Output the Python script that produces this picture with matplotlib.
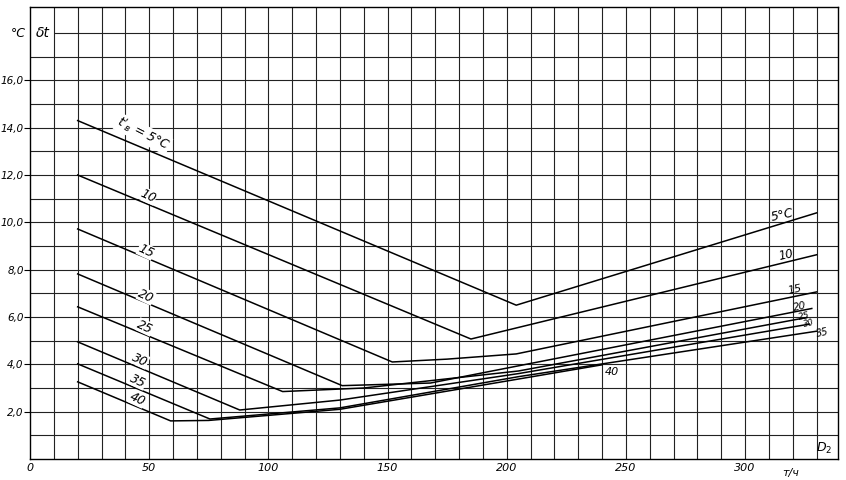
import numpy as np
import matplotlib
matplotlib.use("Agg")
import matplotlib.pyplot as plt

# curves of delta t vs D2, one per inlet temperature t'_B
x5 = [20, 204, 330]
y5 = [14.3, 6.5, 10.4]
x10 = [20, 185, 330]
y10 = [12.0, 5.07, 8.63]
x15 = [20, 152, 175, 204, 330]
y15 = [9.72, 4.1, 4.22, 4.44, 7.06]
x20 = [20, 131, 168, 328]
y20 = [7.82, 3.1, 3.21, 6.36]
x25 = [20, 106, 140, 205, 326]
y25 = [6.43, 2.85, 3.0, 3.72, 5.98]
x30 = [20, 88, 130, 205, 327]
y30 = [4.95, 2.07, 2.49, 3.61, 5.7]
x35 = [20, 75.5, 130, 205, 330]
y35 = [4.02, 1.69, 2.16, 3.48, 5.4]
x40 = [20, 59, 75, 130, 205, 240]
y40 = [3.26, 1.61, 1.63, 2.1, 3.38, 3.98]

xticks = [0, 50, 100, 150, 200, 250, 300]
yticks = [2, 4, 6, 8, 10, 12, 14, 16]

fig = plt.figure(figsize=(8.46, 4.8), dpi=100)
ax = fig.add_axes([30/846, 1-459/480, 808/846, 452/480])

# graph paper (the 18 line leaves room for the "δt" label)
for gx in np.arange(10, 340, 10):
    ax.axvline(gx, color="#222222", lw=0.8, zorder=1)
for gy in np.arange(1, 19, 1):
    x0 = 10 if gy == 18 else 0
    ax.hlines(gy, x0, 339, color="#222222", lw=0.8, zorder=1)

curves = [(x5, y5), (x10, y10), (x15, y15), (x20, y20),
          (x25, y25), (x30, y30), (x35, y35), (x40, y40)]
for xs, ys in curves:
    ax.plot(xs, ys, color="black", lw=1.1, zorder=3)

ax.set_xlim(0, 339)
ax.set_ylim(0, 19.1)
for s in ax.spines.values():
    s.set_color("black")
    s.set_linewidth(1.0)
    s.set_zorder(10)

ax.set_xticks(xticks)
ax.set_xticklabels([str(v) for v in xticks], style="italic", fontsize=8)
ax.set_yticks(yticks)
ax.set_yticklabels([f"{v},0" for v in yticks], style="italic", fontsize=7.5)
ax.tick_params(axis="x", length=0, pad=3)
ax.tick_params(axis="y", length=4, pad=0.5, width=0.8)

# labels on the left
lab = dict(style="italic", fontsize=9, ha="center", va="center", zorder=5)
ax.text(47.4, 13.74, "$t'_{в}$ = 5°C", rotation=-27, **lab,
        bbox=dict(fc="white", ec="none", pad=0.5))
left = [("10", 49.5, 11.12), ("15", 48.7, 8.79), ("20", 48.7, 6.89),
        ("25", 48.3, 5.58), ("30", 46.2, 4.19), ("35", 45.3, 3.30),
        ("40", 44.9, 2.54)]
for t, x, y in left:
    ax.text(x, y, t, rotation=-25, **lab,
            bbox=dict(fc="white", ec="none", pad=0.3))

# labels on the right
small = dict(style="italic", ha="center", va="center", zorder=5)
right = [("5°C", 315.6, 10.3, 9), ("10", 317.2, 8.6, 8.5), ("15", 321, 7.17, 8),
         ("20", 323.1, 6.45, 7.5), ("25", 324.8, 6.02, 6.5),
         ("30", 326.9, 5.72, 6), ("35", 332.6, 5.33, 7)]
for t, x, y, fs in right:
    ax.text(x, y, t, rotation=12, fontsize=fs, **small)
ax.text(244, 3.68, "40", fontsize=8, **small)

ax.text(-5, 18.0, "°C", style="italic", fontsize=9, ha="center", va="center",
        clip_on=False)
ax.text(5.5, 18.0, "δt", style="italic", fontsize=10, ha="center", va="center",
        zorder=5)
ax.text(333, 0.45, "$D_2$", style="italic", fontsize=9, ha="center",
        va="center", zorder=5)
ax.text(319, -0.4, "т/ч", style="italic", fontsize=8, ha="center", va="top",
        clip_on=False)

fig.savefig("out.png", dpi=100)
